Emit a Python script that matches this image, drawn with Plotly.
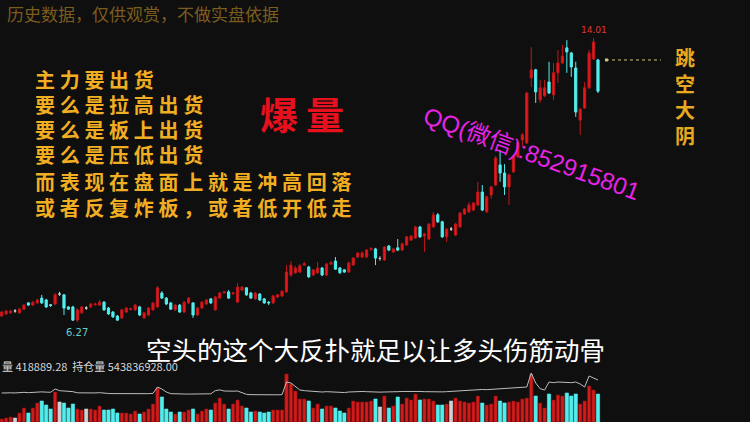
import plotly.graph_objects as go

W, H = 750, 422

opens = [6.43, 6.49, 6.52, 6.57, 6.52, 6.62, 6.79, 6.73, 6.79, 6.92,
         6.87, 6.74, 6.76, 7.03, 7.01, 6.68, 6.68, 6.32, 6.52, 6.65,
         6.68, 6.74, 6.73, 6.81, 6.65, 6.54, 6.43, 6.38, 6.54, 6.61,
         6.60, 6.68, 6.38, 6.46, 6.60, 6.68, 7.06, 6.92, 6.79, 6.60,
         6.73, 6.54, 6.79, 6.79, 6.46, 6.65, 6.76, 6.90, 6.60, 6.92,
         7.07, 7.09, 7.04, 6.81, 7.14, 7.20, 7.06, 6.90, 7.03, 6.90,
         6.81, 6.79, 6.95, 6.98, 7.09, 7.55, 7.61, 7.63, 7.82, 7.77,
         7.55, 7.61, 7.74, 7.55, 7.85, 7.93, 7.74, 7.69, 7.63, 7.82,
         8.04, 8.04, 8.04, 8.25, 8.26, 8.00, 7.96, 8.34, 8.18, 8.29,
         8.23, 8.37, 8.50, 8.56, 8.86, 8.61, 8.53, 8.86, 9.19, 9.00,
         8.59, 8.80, 8.64, 8.86, 9.21, 9.27, 9.32, 9.46, 9.81, 9.27,
         9.73, 10.00, 10.55, 10.33, 9.95, 10.36, 10.77, 11.23, 11.15, 12.92,
         13.14, 12.32, 12.43, 12.81, 12.46, 13.06, 13.33, 13.74, 13.60, 13.19,
         11.77, 12.10, 12.65, 13.44, 13.41]
closes = [6.54, 6.57, 6.57, 6.57, 6.62, 6.73, 6.73, 6.81, 6.87, 6.79,
          6.68, 6.72, 7.01, 7.03, 6.65, 6.62, 6.32, 6.60, 6.68, 6.65,
          6.76, 6.76, 6.81, 6.60, 6.49, 6.41, 6.32, 6.60, 6.65, 6.63,
          6.73, 6.46, 6.52, 6.65, 6.79, 7.20, 6.92, 6.76, 6.62, 6.73,
          6.54, 6.81, 6.92, 6.46, 6.65, 6.81, 6.87, 6.79, 6.95, 7.06,
          7.09, 6.92, 7.06, 7.22, 7.22, 7.01, 6.92, 7.06, 6.87, 6.79,
          6.79, 6.98, 7.01, 7.11, 7.63, 7.82, 7.74, 7.80, 7.86, 7.50,
          7.69, 7.74, 7.55, 7.85, 7.88, 7.71, 7.61, 7.63, 7.88, 8.01,
          8.15, 8.15, 8.23, 8.27, 8.01, 8.00, 8.31, 8.23, 8.26, 8.23,
          8.40, 8.59, 8.61, 8.86, 8.59, 8.67, 8.94, 9.19, 9.00, 8.59,
          8.80, 8.80, 8.94, 9.24, 9.35, 9.46, 9.51, 9.81, 9.32, 9.68,
          9.95, 10.74, 10.33, 9.95, 10.28, 10.79, 11.15, 11.37, 12.51, 13.14,
          12.54, 12.65, 12.65, 12.51, 13.06, 13.33, 13.52, 13.63, 13.22, 11.99,
          12.07, 12.65, 13.60, 13.90, 12.56]
highs = [6.57, 6.60, 6.60, 6.62, 6.65, 6.76, 6.81, 6.84, 6.90, 7.01,
         6.90, 6.76, 7.06, 7.09, 7.03, 6.70, 6.71, 6.65, 6.71, 6.70,
         6.79, 6.79, 6.87, 6.84, 6.68, 6.57, 6.46, 6.62, 6.68, 6.66,
         6.76, 6.71, 6.54, 6.68, 6.81, 7.25, 7.11, 6.95, 6.81, 6.76,
         6.76, 6.84, 6.95, 6.81, 6.68, 6.84, 6.90, 6.92, 6.98, 7.09,
         7.12, 7.14, 7.09, 7.33, 7.25, 7.22, 7.09, 7.09, 7.06, 6.92,
         6.84, 7.01, 7.03, 7.14, 7.82, 7.93, 7.80, 7.85, 7.91, 7.80,
         7.71, 7.91, 7.77, 7.88, 7.93, 8.04, 7.77, 7.71, 7.91, 8.04,
         8.18, 8.20, 8.26, 8.31, 8.29, 8.06, 8.34, 8.37, 8.29, 8.53,
         8.43, 8.61, 8.64, 8.89, 8.89, 8.70, 8.97, 9.27, 9.24, 9.03,
         8.83, 8.86, 8.97, 9.27, 9.38, 9.54, 9.54, 10.09, 10.00, 9.71,
         9.98, 10.79, 10.96, 10.57, 10.31, 10.82, 11.18, 11.42, 12.54, 13.76,
         13.17, 12.86, 12.86, 13.36, 13.33, 13.68, 13.82, 13.95, 13.63, 13.36,
         12.10, 12.81, 13.68, 14.01, 13.44]
lows = [6.41, 6.46, 6.49, 6.52, 6.49, 6.60, 6.71, 6.71, 6.76, 6.76,
        6.65, 6.68, 6.73, 6.98, 6.46, 6.60, 6.30, 6.27, 6.49, 6.60,
        6.65, 6.71, 6.71, 6.57, 6.46, 6.38, 6.30, 6.35, 6.52, 6.58,
        6.57, 6.43, 6.35, 6.43, 6.57, 6.65, 6.90, 6.73, 6.60, 6.57,
        6.52, 6.52, 6.76, 6.38, 6.43, 6.62, 6.73, 6.76, 6.57, 6.90,
        7.04, 6.90, 7.01, 6.79, 7.11, 6.98, 6.90, 6.87, 6.84, 6.76,
        6.73, 6.76, 6.92, 6.95, 7.06, 7.50, 7.58, 7.61, 7.80, 7.47,
        7.52, 7.58, 7.52, 7.52, 7.82, 7.69, 7.58, 7.61, 7.61, 7.80,
        8.01, 8.01, 8.01, 8.21, 7.82, 7.94, 7.93, 8.20, 8.15, 8.20,
        8.20, 8.34, 8.48, 8.53, 8.56, 8.18, 8.50, 8.83, 8.97, 8.56,
        8.45, 8.75, 8.61, 8.83, 9.19, 9.24, 9.29, 9.43, 9.29, 9.24,
        9.62, 9.97, 10.09, 9.73, 9.46, 10.33, 10.74, 11.04, 11.12, 12.67,
        12.24, 12.24, 12.40, 12.48, 12.32, 12.78, 13.30, 13.06, 12.95, 11.86,
        11.37, 12.07, 12.62, 13.41, 12.51]
volumes = [45000, 60000, 75000, 60000, 135000, 210000, 135000, 210000, 285000, 315000,
           255000, 195000, 450000, 300000, 285000, 210000, 270000, 195000, 180000, 195000,
           195000, 180000, 240000, 180000, 180000, 195000, 135000, 135000, 135000, 120000,
           165000, 120000, 150000, 195000, 270000, 510000, 375000, 195000, 150000, 120000,
           150000, 150000, 180000, 195000, 120000, 165000, 195000, 180000, 285000, 360000,
           270000, 195000, 270000, 330000, 240000, 210000, 150000, 165000, 150000, 135000,
           150000, 180000, 180000, 180000, 720000, 570000, 465000, 345000, 345000, 315000,
           210000, 270000, 195000, 240000, 240000, 210000, 165000, 135000, 210000, 315000,
           300000, 300000, 300000, 315000, 345000, 225000, 390000, 210000, 240000, 375000,
           270000, 360000, 330000, 420000, 330000, 345000, 345000, 315000, 255000, 255000,
           270000, 315000, 360000, 315000, 300000, 285000, 300000, 390000, 285000, 255000,
           270000, 390000, 315000, 285000, 300000, 315000, 300000, 345000, 360000, 720000,
           390000, 285000, 210000, 420000, 330000, 405000, 390000, 435000, 390000, 420000,
           270000, 315000, 540000, 480000, 418889.28]
vol_line = [435000, 440000, 438000, 436000, 442000, 445000, 440000, 446000, 450000, 452000,
            448000, 446000, 495000, 470000, 465000, 460000, 455000, 438000, 435000, 437000,
            434000, 436000, 440000, 430000, 428000, 426000, 425000, 424000, 422000, 421000,
            420000, 422000, 424000, 425000, 430000, 525000, 495000, 450000, 425000, 420000,
            418000, 420000, 419000, 421000, 420000, 418000, 420000, 423000, 470000, 482000,
            465000, 460000, 462000, 465000, 440000, 415000, 410000, 408000, 405000, 407000,
            405000, 406000, 408000, 410000, 600000, 585000, 525000, 480000, 470000, 465000,
            455000, 460000, 450000, 455000, 452000, 448000, 440000, 442000, 450000, 455000,
            460000, 458000, 455000, 450000, 452000, 448000, 450000, 455000, 452000, 455000,
            458000, 460000, 456000, 462000, 458000, 455000, 452000, 450000, 448000, 452000,
            455000, 460000, 465000, 470000, 472000, 475000, 480000, 485000, 488000, 485000,
            490000, 495000, 498000, 500000, 505000, 510000, 515000, 520000, 525000, 735000,
            585000, 500000, 480000, 600000, 590000, 600000, 595000, 600000, 590000, 600000,
            570000, 525000, 690000, 660000, 630000]
volume_label = "量 418889.28  持仓量 543836928.00"

disclaimer = "历史数据，仅供观赏，不做实盘依据"
gold_lines = ["主力要出货", "要么是拉高出货", "要么是板上出货", "要么是压低出货",
              "而表现在盘面上就是冲高回落", "或者反复炸板，或者低开低走"]
big_word = "爆量"
contact = "QQ(微信):852915801"
subtitle = "空头的这个大反扑就足以让多头伤筋动骨"
side_word = "跳空大阴"

n = len(opens)
idx = list(range(n))
up = [i for i in idx if closes[i] > opens[i]]
dn = [i for i in idx if closes[i] < opens[i]]
flat = [i for i in idx if closes[i] == opens[i]]


def sub(arr, ids):
    return [arr[i] for i in ids]


RED = '#e8191d'
RED_EDGE = '#c4161a'
CYAN = '#52eeee'
GREY = '#d0d0d0'
BG = '#0f0f0f'

fig = go.Figure()
for ids, fill, edge in [(up, RED, RED_EDGE), (dn, CYAN, CYAN), (flat, GREY, GREY)]:
    fig.add_trace(go.Candlestick(
        x=ids, open=sub(opens, ids), high=sub(highs, ids), low=sub(lows, ids), close=sub(closes, ids),
        increasing=dict(line=dict(color=edge, width=1), fillcolor=fill),
        decreasing=dict(line=dict(color=edge, width=1), fillcolor=fill),
        whiskerwidth=0, showlegend=False, hoverinfo='skip', xaxis='x', yaxis='y'))

bar_colors = ['#d11c1c' if closes[i] > opens[i] else (CYAN if closes[i] < opens[i] else GREY) for i in idx]
bar_edges = ['#8e0d0d' if closes[i] > opens[i] else (CYAN if closes[i] < opens[i] else GREY) for i in idx]
fig.add_trace(go.Bar(x=idx, y=volumes, width=0.74, marker=dict(color=bar_colors, line=dict(color=bar_edges, width=0.6)),
                     showlegend=False, hoverinfo='skip', xaxis='x', yaxis='y2'))
fig.add_trace(go.Scatter(x=idx, y=vol_line, mode='lines', line=dict(color='#bdbdbd', width=1),
                         showlegend=False, hoverinfo='skip', xaxis='x', yaxis='y2'))


def px(x):
    return x / W


def py(y):
    return 1 - y / H


CJK = "Noto Sans CJK SC, sans-serif"
ann = []
ann.append(dict(x=px(5), y=py(13), xref='paper', yref='paper', xanchor='left', yanchor='middle',
                text=disclaimer, showarrow=False, font=dict(family=CJK, size=17, color='#7b5d1e')))
gold_y = [80, 105, 130, 155, 181, 207]
for line, yy in zip(gold_lines, gold_y):
    ann.append(dict(x=px(33), y=py(yy), xref='paper', yref='paper', xanchor='left', yanchor='middle', align='left',
                    text='<span style="letter-spacing:4.7px">' + line + '</span>',
                    showarrow=False, font=dict(family=CJK, size=20, color='#f2ae22', weight='bold')))
ann.append(dict(x=px(306), y=py(113), xref='paper', yref='paper', xanchor='center', yanchor='middle',
                text='<span style="letter-spacing:8px">' + big_word + '</span>', showarrow=False,
                font=dict(family=CJK, size=38, color='#e8101c', weight='bold')))
ann.append(dict(x=px(532), y=py(153), xref='paper', yref='paper', xanchor='center', yanchor='middle',
                text=contact, showarrow=False, textangle=20,
                font=dict(family="Liberation Sans, Noto Sans CJK SC, sans-serif", size=24, color='#e624e6')))
ann.append(dict(x=px(375), y=py(348), xref='paper', yref='paper', xanchor='center', yanchor='middle',
                text=subtitle, showarrow=False, font=dict(family=CJK, size=25.5, color='#ffffff')))
ann.append(dict(x=px(0), y=py(366), xref='paper', yref='paper', xanchor='left', yanchor='middle',
                text=volume_label, showarrow=False, font=dict(family=CJK, size=11, color='#d8d8d8')))
ann.append(dict(x=px(685), y=py(96), xref='paper', yref='paper', xanchor='center', yanchor='middle',
                text="<br>".join(list(side_word)), showarrow=False,
                font=dict(family=CJK, size=20, color='#e8a820', weight='bold')))

lo_i = lows.index(min(lows))
hi_i = highs.index(max(highs))
ann.append(dict(x=lo_i, y=lows[lo_i], xref='x', yref='y', yshift=-11, text=f"{lows[lo_i]:.2f}", showarrow=False,
                font=dict(family="DejaVu Sans, sans-serif", size=10, color='#62cfd0')))
ann.append(dict(x=hi_i, y=highs[hi_i], xref='x', yref='y', yshift=8, text=f"{highs[hi_i]:.2f}", showarrow=False,
                font=dict(family="DejaVu Sans, sans-serif", size=9, color='#e03434')))

shapes = [dict(type='line', xref='paper', yref='y', x0=px(606), x1=px(661), y0=opens[-1], y1=opens[-1],
               line=dict(color='#cfc77a', width=1, dash='dot')),
          dict(type='rect', xref='paper', yref='y', x0=px(605), x1=px(608), y0=opens[-1] - 0.04, y1=opens[-1] + 0.04,
               line=dict(width=0), fillcolor='#cfc77a')]

fig.update_layout(
    width=W, height=H, margin=dict(l=0, r=0, t=0, b=0),
    paper_bgcolor=BG, plot_bgcolor=BG,
    xaxis=dict(range=[-0.38, 168.16], visible=False, rangeslider=dict(visible=False), domain=[0, 1]),
    yaxis=dict(range=[5.643, 15.044], domain=[0.1825, 1], visible=False),
    yaxis2=dict(range=[0, 823000], domain=[0, 0.13], visible=False, anchor='x'),
    annotations=ann, shapes=shapes, showlegend=False,
)

fig.write_html("out.html", config={'displayModeBar': False},
               post_script="document.body.style.margin='0';document.body.style.background='#0f0f0f';")
